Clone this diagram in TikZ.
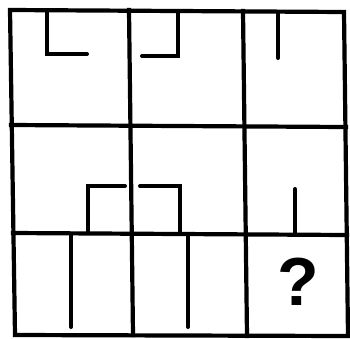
\documentclass[tikz,border=0pt]{standalone}
\usepackage{fontspec}
\setmainfont{Liberation Sans}
\usepackage{tikz}

\begin{document}
\begin{tikzpicture}[
    x=1pt, y=-1pt,
    grid/.style={line width=4.2pt, line cap=rect, line join=miter},
    piece/.style={line width=4pt, line cap=round, line join=miter}
]
\useasboundingbox (0,0) rectangle (350,338);

% outer frame
\draw[grid] (10,10) -- (344,12) -- (348,336) -- (15,335) -- cycle;
% inner lines
\draw[grid] (129,10) -- (133,335);
\draw[grid] (243,11) -- (247,336);
\draw[grid] (11,125) -- (346,127);
\draw[grid] (13,233) -- (347,235);

% row 1
\draw[piece] (47,11) -- (47,54) -- (87,54);
\draw[piece] (178,11) -- (178,56) -- (142,56);
\draw[piece] (278,12) -- (278,58);

% row 2
\draw[piece] (88,233) -- (88,186) -- (125,186);
\draw[piece] (140,186) -- (180,186) -- (180,234);
\draw[piece] (295,234) -- (295,189);

% row 3
\draw[piece] (71,234) -- (71,327);
\draw[piece] (188,235) -- (188,327);

\node[font=\bfseries\fontsize{68}{68}\selectfont] (q) at (298,282) {?};
\end{tikzpicture}
\end{document}
